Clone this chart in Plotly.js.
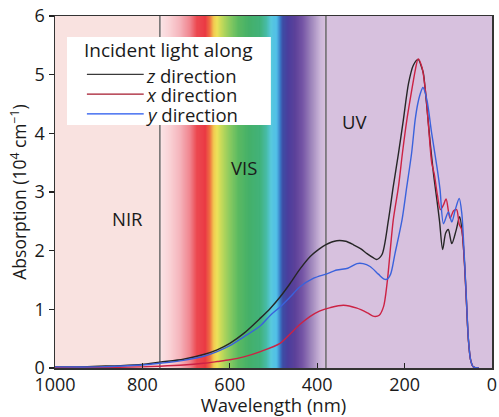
<!DOCTYPE html>
<html>
<head>
<meta charset="utf-8">
<script src="https://cdn.plot.ly/plotly-3.0.1.min.js"></script>
<style>html,body{margin:0;padding:0;background:#fff;}#chart{width:499px;height:417px;}</style>
</head>
<body>
<div id="chart"></div>
<script>
// ---- data (wavelength in nm, absorption in 10^4 cm^-1) ----
const zWave = [1000,950,900,850,800,760,706,660,629,600,568,530,507,485,462,440,416,395,381,355,335,317,300,286,272,264,252,237,226,214,203,191,180,169,160,157,149,142,134,126,120,113,106,100,92,82,74,68,63,59,54,49,43,30];
const zAbs  = [0.02,0.02,0.03,0.04,0.06,0.10,0.15,0.23,0.31,0.42,0.59,0.85,1.02,1.21,1.44,1.68,1.90,2.03,2.10,2.17,2.16,2.10,2.03,1.95,1.88,1.85,1.93,2.52,3.09,3.66,4.22,4.85,5.16,5.26,5.10,5.02,4.45,3.88,3.32,2.86,2.50,2.02,2.30,2.36,2.12,2.35,2.58,2.30,1.80,1.21,0.48,0.14,0.02,0.0];

const xWave = [1000,900,800,760,706,660,629,600,568,530,485,462,440,416,395,370,340,309,285,270,258,248,240,226,214,205,195,181,175,169,160,152,145,138,132,125,118,111,105,96,88,81,75,69,64,59,54,49,43,30];
const xAbs  = [0.01,0.01,0.02,0.03,0.05,0.08,0.11,0.14,0.19,0.28,0.42,0.58,0.74,0.88,0.97,1.03,1.07,1.02,0.94,0.88,0.90,1.05,1.45,2.52,3.09,3.66,4.22,4.85,5.10,5.27,5.12,4.70,4.10,3.50,3.30,2.95,2.70,2.78,2.88,2.55,2.68,2.70,2.45,2.35,1.90,1.20,0.48,0.14,0.02,0.0];

const yWave = [1000,900,800,760,706,660,629,600,568,530,507,485,462,440,408,380,355,330,309,295,279,260,248,241,232,222,206,195,184,176,170,164,158,149,138,126,119,111,100,92,84,75,69,64,59,54,49,43,30];
const yAbs  = [0.02,0.02,0.05,0.08,0.13,0.20,0.28,0.38,0.53,0.72,0.90,1.04,1.21,1.38,1.53,1.60,1.67,1.70,1.78,1.78,1.73,1.60,1.52,1.51,1.60,1.95,2.52,3.09,3.66,4.22,4.50,4.68,4.78,4.57,4.00,3.43,3.05,2.46,2.66,2.49,2.70,2.89,2.63,2.00,1.25,0.50,0.14,0.02,0.0];

const seriesNames = ['<i>z</i> direction', '<i>x</i> direction', '<i>y</i> direction'];
const legendTitle = 'Incident light along';
const xTicks = [1000, 800, 600, 400, 200, 0];
const yTicks = [0, 1, 2, 3, 4, 5, 6];
const regionLabels = ['NIR', 'VIS', 'UV'];
const regionBounds = [1000, 760, 380, 0];   // NIR | VIS | UV boundaries (nm)

// visible spectrum colour stops (nm -> colour) for the VIS background band
const specNm  = [760,735,713,690,675,655,645,636,628,618,600,580,555,530,515,505,492,484,478,465,448,432,410,392,380];
const specCol = ['#fbe6e8','#f9d0d4','#f5b4bc','#f0848e','#ec4a52','#ea3a44','#ef6e42','#f2c850','#ede25a','#c4d95a','#8ccb60','#5cba62','#45b06a','#42b27a','#48bca8','#58c8dc','#52c0e8','#3a7cc8','#3d4ea6','#4c3e9c','#5e439a','#7656a6','#a48cbf','#cbb6d8','#d7c1de'];

const lineColors   = ['#262626', '#cc2244', '#3a62dc'];
const legendColors = ['#3a3a3a', '#a5182c', '#2255ee'];

// ---- helpers ----
function hex2rgb(h){return [parseInt(h.slice(1,3),16),parseInt(h.slice(3,5),16),parseInt(h.slice(5,7),16)];}
function colorAt(nm){
  for(let i=0;i<specNm.length-1;i++){
    const a=specNm[i], b=specNm[i+1];
    if(nm<=a && nm>=b){
      const t=(a-nm)/(a-b);
      const ca=hex2rgb(specCol[i]), cb=hex2rgb(specCol[i+1]);
      const c=ca.map((v,k)=>Math.round(v+(cb[k]-v)*t));
      return 'rgb('+c.join(',')+')';
    }
  }
  return specCol[specCol.length-1];
}

const shapes = [];
// NIR background
shapes.push({type:'rect', xref:'x', yref:'paper', x0:regionBounds[0], x1:regionBounds[1], y0:0, y1:1, fillcolor:'#f9e2e0', line:{width:0}, layer:'below'});
// UV background
shapes.push({type:'rect', xref:'x', yref:'paper', x0:regionBounds[2], x1:regionBounds[3], y0:0, y1:1, fillcolor:'#d7c1de', line:{width:0}, layer:'below'});
// VIS rainbow (overlapping thin strips so no gaps appear)
for(let nm=regionBounds[1]-2; nm>=regionBounds[2]; nm-=2){
  shapes.push({type:'rect', xref:'x', yref:'paper', x0:Math.max(nm-3, regionBounds[2]), x1:Math.min(nm+3, regionBounds[1]), y0:0, y1:1, fillcolor:colorAt(nm+1), line:{width:0}, layer:'below'});
}
// boundary lines
[regionBounds[1], regionBounds[2]].forEach(b=>{
  shapes.push({type:'line', xref:'x', yref:'paper', x0:b, x1:b, y0:0, y1:1, line:{color:'#6a6a6a', width:1.5}, layer:'below'});
});

// legend box (drawn as a panel in paper coordinates)
const legBox = {x0:0.0275, x1:0.494, y0:0.690, y1:0.940};
const legRowsY = [0.834, 0.778, 0.722];
shapes.push({type:'rect', xref:'paper', yref:'paper', x0:legBox.x0, x1:legBox.x1, y0:legBox.y0, y1:legBox.y1, fillcolor:'#ffffff', line:{width:0}, layer:'above'});
legRowsY.forEach((yy,i)=>{
  shapes.push({type:'line', xref:'paper', yref:'paper', x0:0.073, x1:0.203, y0:yy, y1:yy, line:{color:legendColors[i], width:1.3}, layer:'above'});
});

const fam = '"Open Sans", "Noto Sans", sans-serif';

const traces = seriesNames.map((nm,i)=>({
  x:[zWave,xWave,yWave][i], y:[zAbs,xAbs,yAbs][i], name:nm, mode:'lines',
  line:{color:lineColors[i], width:1.4, shape:'spline', smoothing:0.8}
}));

const annotations = [
  {x:834, y:2.54, xref:'x', yref:'y', text:regionLabels[0], showarrow:false, font:{size:18.5}},
  {x:567, y:3.42, xref:'x', yref:'y', text:regionLabels[1], showarrow:false, font:{size:18.5}},
  {x:315, y:4.21, xref:'x', yref:'y', text:regionLabels[2], showarrow:false, font:{size:18.5}},
  {x:0.062, y:0.903, xref:'paper', yref:'paper', xanchor:'left', yanchor:'middle', text:legendTitle, showarrow:false, font:{size:19}}
];
legRowsY.forEach((yy,i)=>{
  annotations.push({x:0.203, y:yy-0.002, xref:'paper', yref:'paper', xanchor:'left', yanchor:'middle', text:seriesNames[i], showarrow:false, font:{size:18.5}});
});

const layout = {
  width:499, height:417,
  margin:{l:55, r:7, t:16, b:49},
  paper_bgcolor:'#ffffff',
  plot_bgcolor:'#ffffff',
  font:{family:fam, size:18, color:'#1a1a1a'},
  showlegend:false,
  xaxis:{
    range:[1000,0], tickvals:xTicks, ticktext:xTicks.map(String),
    ticks:'inside', ticklen:5, tickwidth:1.3, tickcolor:'#222',
    showline:true, mirror:true, linecolor:'#333', linewidth:1.5,
    showgrid:false, zeroline:false, tickfont:{size:18},
    title:{text:'Wavelength (nm)', standoff:2, font:{size:18.5}}
  },
  yaxis:{
    range:[0,6], tickvals:yTicks, ticktext:yTicks.map(String),
    ticks:'outside', ticklen:5, tickwidth:1.3, tickcolor:'#222',
    showline:true, mirror:true, linecolor:'#333', linewidth:1.5,
    showgrid:false, zeroline:false, tickfont:{size:18},
    title:{text:'Absorption (10<sup>4</sup> cm<sup>−1</sup>)', standoff:3, font:{size:17.5}}
  },
  shapes:shapes,
  annotations:annotations
};

Plotly.newPlot('chart', traces, layout, {displayModeBar:false, staticPlot:true});
</script>
</body>
</html>
